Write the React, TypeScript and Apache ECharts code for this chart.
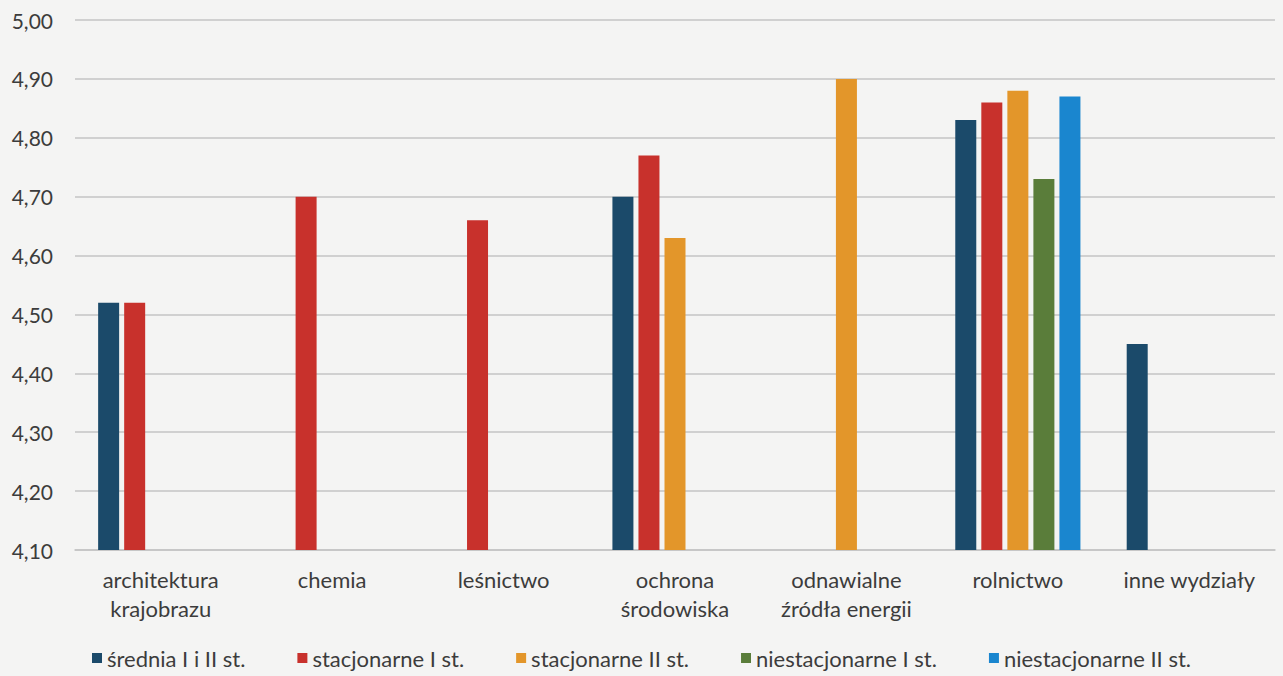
import React, { useEffect, useRef } from "react";
import * as echarts from "echarts";

const categories = [
  "architektura\nkrajobrazu",
  "chemia",
  "leśnictwo",
  "ochrona\nśrodowiska",
  "odnawialne\nźródła energii",
  "rolnictwo",
  "inne wydziały",
];

const seriesNames = [
  "średnia I i II st.",
  "stacjonarne I st.",
  "stacjonarne II st.",
  "niestacjonarne I st.",
  "niestacjonarne II st.",
];

const sredniaValues = [4.52, null, null, 4.7, null, 4.83, 4.45];
const stacjonarneIValues = [4.52, 4.7, 4.66, 4.77, null, 4.86, null];
const stacjonarneIIValues = [null, null, null, 4.63, 4.9, 4.88, null];
const niestacjonarneIValues = [null, null, null, null, null, 4.73, null];
const niestacjonarneIIValues = [null, null, null, null, null, 4.87, null];

const seriesColors = ["#1b4a6a", "#c8312c", "#e3962a", "#5a7d3a", "#1a86cf"];

const yMin = 4.1;
const yMax = 5.0;
const yInterval = 0.1;

const FONT = "Lato, 'Noto Sans', sans-serif";
const TEXT_COLOR = "#3c3c3c";

export default function App() {
  const ref = useRef<HTMLDivElement>(null);

  useEffect(() => {
    if (!ref.current) return;
    const chart = echarts.init(ref.current, null, { renderer: "svg" });
    const allValues = [
      sredniaValues,
      stacjonarneIValues,
      stacjonarneIIValues,
      niestacjonarneIValues,
      niestacjonarneIIValues,
    ];
    chart.setOption({
      animation: false,
      backgroundColor: "#f4f4f3",
      textStyle: { fontFamily: FONT },
      grid: { left: 75, right: 8, top: 20, bottom: 126, containLabel: false },
      legend: {
        bottom: 2,
        left: "center",
        itemWidth: 10,
        itemHeight: 10,
        itemGap: 52,
        icon: "rect",
        textStyle: { fontFamily: FONT, fontSize: 22, color: TEXT_COLOR },
        data: seriesNames,
      },
      xAxis: {
        type: "category",
        data: categories,
        axisLine: { show: true, lineStyle: { color: "#c4c4c4", width: 1.5 } },
        axisTick: { show: false },
        axisLabel: {
          fontFamily: FONT,
          fontSize: 22,
          color: TEXT_COLOR,
          margin: 15,
          lineHeight: 29,
          interval: 0,
        },
      },
      yAxis: {
        type: "value",
        min: yMin,
        max: yMax,
        interval: yInterval,
        axisLine: { show: false },
        axisTick: { show: false },
        splitLine: { lineStyle: { color: "#c4c4c4", width: 1.5 } },
        axisLabel: {
          fontFamily: FONT,
          fontSize: 21,
          color: TEXT_COLOR,
          margin: 22,
          formatter: (v: number) => v.toFixed(2).replace(".", ","),
        },
      },
      series: seriesNames.map((name, i) => ({
        name,
        type: "bar",
        data: allValues[i],
        barWidth: 21,
        barGap: "24%",
        itemStyle: { color: seriesColors[i] },
      })),
    });
    return () => chart.dispose();
  }, []);

  return (
    <div
      ref={ref}
      style={{ position: "fixed", left: 0, top: 0, width: 1283, height: 676 }}
    />
  );
}
